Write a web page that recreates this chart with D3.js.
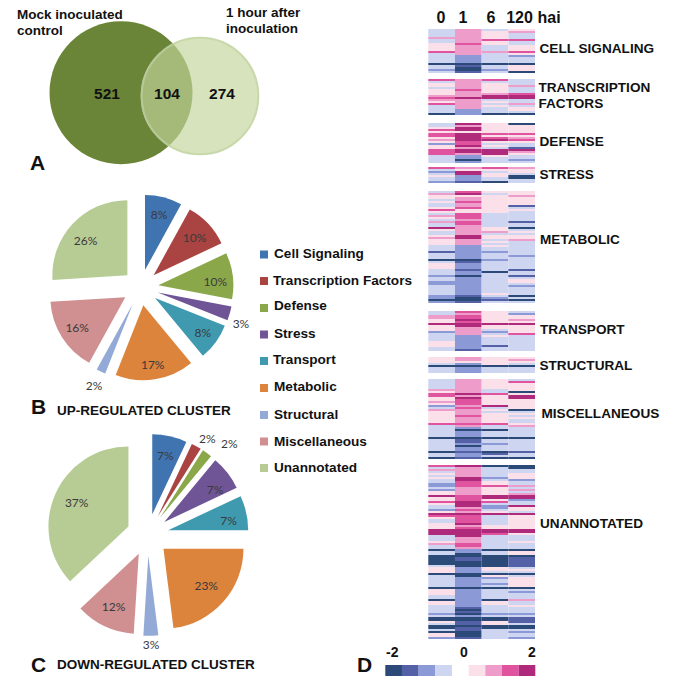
<!DOCTYPE html>
<html><head><meta charset="utf-8">
<script src="https://cdn.jsdelivr.net/npm/d3@7"></script>
<style>
html,body{margin:0;padding:0;background:#fff}
svg{display:block}
text{font-family:"Liberation Sans",Arial,sans-serif;font-weight:700;fill:#111}
.pct{font-family:"Lato",sans-serif;font-weight:400;font-size:12px;fill:#3a3a3a;text-anchor:middle}
</style></head><body>
<svg id="c" width="685" height="685"></svg>
<script>
// ---- Venn ----
const vennCounts = [521, 104, 274];
const vennSets = ["Mock inoculated control", "1 hour after inoculation"];

// ---- Pies ----
const pieCategories = ["Cell Signaling","Transcription Factors","Defense","Stress","Transport","Metabolic","Structural","Miscellaneous","Unannotated"];
const pieColors = ["#3f74b0","#a94442","#8aa84a","#6f5596","#3f9ab0","#dd843c","#93a9d6","#d08f90","#b7cc94"];
const upValues = [8,10,10,3,8,17,2,16,26];
const downValues = [7,2,2,7,7,23,3,12,37];
const upLabelRadius = [75,73,75,107,77,78,109,75,72];
const downLabelRadius = [81,113,122,81,82,78,110,80,78];
const upLabelTurn = [0,1,3,4,0,0,0,0,-3];
const downLabelTurn = [0,3,6,4,3,0,0,0,1];
const legendBaselines = [258,285,310,338,364,391,419,446,472];
const legendMarkTops = [250.5,277,304,330.5,357,384,411,437.5,464];
const legendTextLeft = [274,273,274,274,273,274,274,274,274];

// ---- Heat map: one digit per row, 0..8 = -2..+2 in half steps ----
const heatColumns = ["0","1","6","120"];
const heatLegendColors = ["#2c4a78","#5561a6","#8b9ad6","#ced5f1","#ffffff","#fbdfe9","#ee9dca","#e0549f","#b02a7c"];
const heatLevels = d3.range(9);
const cellSignaling = ["3333633555 5733333033 23","6666666766 6662222010 01","3555575533 3633333033 23","5633373355 5752333055 50"];
const transcription = ["7355355567 65733330","6666676668 66666222","7355555688 35353330","3336333788 33635530"];
const defense = ["3357577565 2557773333","8688588887 7868862202","5555575785 3538885333","0555575675 3318653323"];
const stress = ["73235332","65882221","75355330","65530033"];
const metabolic = [
 "3655353357 5365363385 3356555333 1333035553 3323322333 332202",
 "7856676675 5777677666 6688666222 2222012221 2202222222 221001",
 "5355555555 5333333355 6355353533 2333233333 0333333333 353213",
 "5565555135 3333313303 5355633333 3323333331 3313553233 330303"];
const transport = ["3366558555 2333355533","7677878866 6622222221","5555558553 2353333133","3255658555 5733333333"];
const structural = ["55530333","66520222","55550333","56530333"];
const miscellaneous = [
 "3333365775 5652365555 5573333330 3333330330",
 "6666666868 7776766676 6676202220 1120221221",
 "5555533755 5558353555 5573303330 3323330130",
 "3755550588 5555503535 3356333330 3333331330"];
const unannotated = [
 "7363535332 2325585575 3325875335 5588833356 3303300000 3555033333 3055533055 3333230053 0030552",
 "8666668877 7666677788 8676877778 6788886667 7622001100 0222002222 2022222222 2101020011 0110001",
 "0333332355 7555588573 2235833333 5588733333 3303300000 0553052332 3033333055 3333230055 0033333",
 "0033555233 6363688233 8553855555 5588533353 3305501111 1353035555 5032333633 5333231113 0032332"];
const clusters = [cellSignaling,transcription,defense,stress,metabolic,transport,structural,miscellaneous,unannotated];
const clusterGaps = [3,4,2,4,4,3,3,3,0];

const svg = d3.select("#c");
function label(x,y,t,size,anchor){
  return svg.append("text").attr("x",x).attr("y",y).attr("font-size",size).attr("text-anchor",anchor||"start").text(t);
}

// ---- Panel A ----
const defs = svg.append("defs");
const A = {x:121,y:92.7,r:71.5}, B = {x:200,y:96,r:59.3};
defs.append("clipPath").attr("id","clipA").append("circle").attr("cx",A.x).attr("cy",A.y).attr("r",A.r);
svg.append("circle").attr("cx",A.x).attr("cy",A.y).attr("r",A.r).attr("fill","#6a8537");
svg.append("circle").attr("cx",B.x).attr("cy",B.y).attr("r",B.r-1).attr("fill","#d6e3bc").attr("stroke","#c8d8aa").attr("stroke-width",2);
const gI = svg.append("g").attr("clip-path","url(#clipA)");
gI.append("circle").attr("cx",B.x).attr("cy",B.y).attr("r",B.r-1).attr("fill","#a5ba79").attr("stroke","#b6c898").attr("stroke-width",2);
label(17,19,"Mock inoculated",13.5); label(17,35,"control",13.5);
label(226,17,"1 hour after",13.5); label(226,33,"inoculation",13.5);
[107,167,222].forEach((x,i)=>label(x,99,vennCounts[i],15.5,"middle"));
label(30,170,"A",21);

// ---- Panels B, C ----
const pieGen = d3.pie().sort(null).startAngle(0).endAngle(2*Math.PI);
const color = d3.scaleOrdinal(pieCategories, pieColors);
function drawPie(values, cx, cy, r, offset, radii, turns){
  const g = svg.append("g").attr("transform",`translate(${cx},${cy})`);
  const arc = d3.arc().innerRadius(0).outerRadius(r);
  const arcs = pieGen(values);
  const mid = d => (d.startAngle+d.endAngle)/2;
  const la = (d,i) => mid(d)+turns[i]*Math.PI/180;
  g.selectAll("path").data(arcs).join("path")
    .attr("d",arc)
    .attr("fill",(d,i)=>color(pieCategories[i]))
    .attr("transform",d=>`translate(${offset*Math.sin(mid(d))},${-offset*Math.cos(mid(d))})`);
  g.selectAll("text").data(arcs).join("text").attr("class","pct")
    .attr("x",(d,i)=>radii[i]*Math.sin(la(d,i)))
    .attr("y",(d,i)=>-radii[i]*Math.cos(la(d,i))+4)
    .text(d=>d.value+"%");
}
drawPie(upValues,140.5,287.5,75,18,upLabelRadius,upLabelTurn);
drawPie(downValues,147.7,534.8,80,21,downLabelRadius,downLabelTurn);

const lg = svg.append("g");
lg.selectAll("rect").data(pieCategories).join("rect")
  .attr("x",260).attr("y",(d,i)=>legendMarkTops[i]).attr("width",8).attr("height",8).attr("fill",d=>color(d));
lg.selectAll("text").data(pieCategories).join("text")
  .attr("x",(d,i)=>legendTextLeft[i]).attr("y",(d,i)=>legendBaselines[i]).attr("font-size",13.6).attr("fill","#222").text(d=>d);

label(31,414,"B",21); label(57,415,"UP-REGULATED CLUSTER",13.5);
label(31,672,"C",21); label(57,669,"DOWN-REGULATED CLUSTER",13.5);

// ---- Panel D ----
const rows = [];
clusters.forEach((cl,ci)=>{
  const cols = cl.map(s=>s.replace(/ /g,""));
  d3.range(cols[0].length).forEach(r=>rows.push({id:`${ci}-${r}`,vals:cols.map(c=>+c[r])}));
  d3.range(clusterGaps[ci]).forEach(g=>rows.push({id:`gap${ci}-${g}`,vals:[]}));
});
const yH = d3.scaleBand().domain(rows.map(d=>d.id)).range([29,639]);
const xH = d3.scaleBand().domain(heatColumns).range([428.3,535]);
const heatColor = d3.scaleOrdinal(heatLevels, heatLegendColors);
const heat = svg.append("g");
rows.forEach(row=>{
  heat.selectAll(null).data(row.vals).join("rect")
    .attr("x",(d,i)=>xH(heatColumns[i])).attr("y",yH(row.id))
    .attr("width",xH.bandwidth()).attr("height",yH.bandwidth())
    .attr("fill",d=>heatColor(d));
});

[["0",441],["1",463],["6",491],["120",519.5]].forEach(([t,x])=>label(x,23,t,16,"middle"));
label(537.5,23,"hai",16);
const clusterLabels = [["CELL SIGNALING",539.5,52.5],["TRANSCRIPTION",538.5,91.7],["FACTORS",538.5,108],["DEFENSE",539.5,145.7],["STRESS",539.5,179],
 ["METABOLIC",540,244],["TRANSPORT",540,334],["STRUCTURAL",539.5,370],["MISCELLANEOUS",541.5,417.5],["UNANNOTATED",540,528]];
clusterLabels.forEach(([t,x,y])=>label(x,y,t,13.6));

const xL = d3.scaleBand().domain(heatLevels).range([385.3,535.3]);
svg.append("g").selectAll("rect").data(heatLevels).join("rect")
  .attr("x",d=>xL(d)).attr("y",665).attr("width",xL.bandwidth()).attr("height",11).attr("fill",d=>heatColor(d));
label(386,657,"-2",14); label(464,657,"0",14,"middle"); label(528,657,"2",14);
label(357,672,"D",21);
</script>
</body></html>
